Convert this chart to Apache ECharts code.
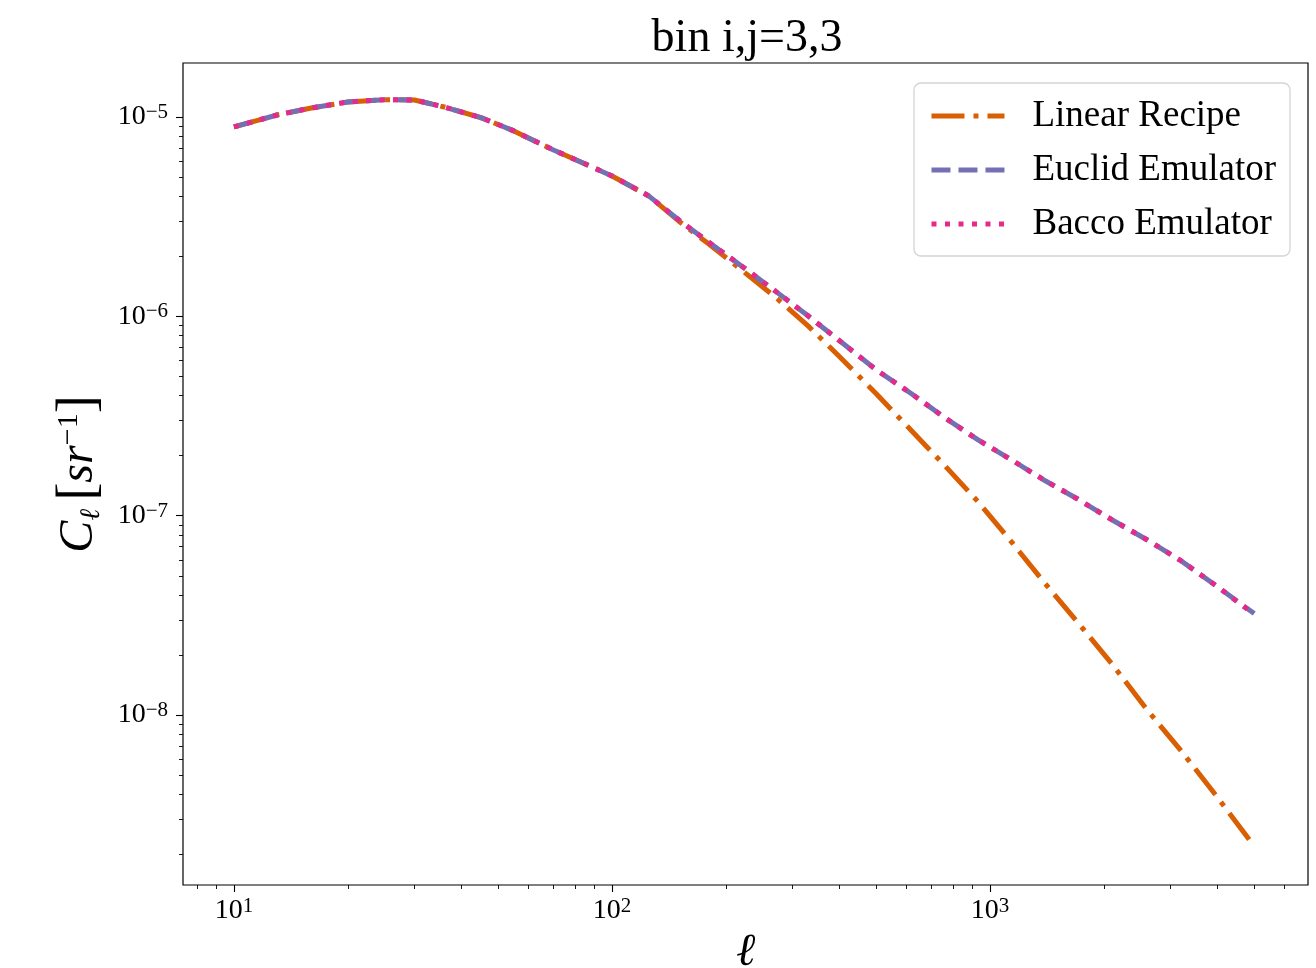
<!DOCTYPE html>
<html><head><meta charset="utf-8">
<script src="https://cdn.jsdelivr.net/npm/echarts@6/dist/echarts.min.js"></script>
<style>html,body{margin:0;padding:0;background:#fff}#chart{width:1316px;height:968px}</style>
</head><body><div id="chart"></div>
<script>
// multipole values
const ell = [10, 13, 16, 20, 25, 30, 36, 45, 55, 70, 85, 100, 125, 150, 180, 220, 270, 330, 400, 500, 620, 760, 930, 1150, 1400, 1700, 2100, 2600, 3200, 4000, 5000];
// C_ell values [sr^-1]
const linearRecipe = [8.91e-6, 1.023e-5, 1.109e-5, 1.189e-5, 1.22e-5, 1.217e-5, 1.122e-5, 9.93e-6, 8.51e-6, 6.83e-6, 5.81e-6, 5.06e-6, 4.02e-6, 3.01e-6, 2.31e-6, 1.71e-6, 1.252e-6, 8.96e-7, 6.27e-7, 4.09e-7, 2.67e-7, 1.78e-7, 1.175e-7, 7.24e-8, 4.56e-8, 2.94e-8, 1.81e-8, 1.066e-8, 6.64e-9, 3.86e-9, 2.2e-9];
const euclidEmulator = [8.91e-6, 1.023e-5, 1.109e-5, 1.189e-5, 1.22e-5, 1.217e-5, 1.122e-5, 9.93e-6, 8.51e-6, 6.83e-6, 5.81e-6, 5.06e-6, 4.02e-6, 3.05e-6, 2.36e-6, 1.79e-6, 1.342e-6, 1.006e-6, 7.54e-7, 5.39e-7, 4.09e-7, 3.10e-7, 2.40e-7, 1.887e-7, 1.497e-7, 1.217e-7, 9.55e-8, 7.58e-8, 5.95e-8, 4.40e-8, 3.23e-8];
const baccoEmulator = [8.91e-6, 1.023e-5, 1.109e-5, 1.189e-5, 1.22e-5, 1.217e-5, 1.122e-5, 9.93e-6, 8.51e-6, 6.83e-6, 5.81e-6, 5.06e-6, 4.02e-6, 3.05e-6, 2.36e-6, 1.79e-6, 1.342e-6, 1.006e-6, 7.54e-7, 5.39e-7, 4.09e-7, 3.10e-7, 2.40e-7, 1.887e-7, 1.497e-7, 1.217e-7, 9.55e-8, 7.58e-8, 5.95e-8, 4.40e-8, 3.20e-8];
const seriesNames = ['Linear Recipe', 'Euclid Emulator', 'Bacco Emulator'];
// axis ticks and limits
const xMajorTicks = [10, 100, 1000];
const yMajorTicks = [1e-8, 1e-7, 1e-6, 1e-5];
const xLimits = [7.33, 6937];
const yLimits = [1.406e-9, 1.865e-5];

const L = Math.log10;
function minorTicks(lim) {
  const out = [];
  const lo = Math.floor(L(lim[0])), hi = Math.ceil(L(lim[1]));
  for (let n = lo; n <= hi; n++) for (let k = 2; k <= 9; k++) {
    const v = k * Math.pow(10, n);
    if (v >= lim[0] && v <= lim[1]) out.push(L(v));
  }
  return out;
}
const serif = "'Liberation Serif', 'DejaVu Serif', serif";
const tickRich = {
  b: {fontFamily: serif, fontSize: 28, color: '#000', lineHeight: 30},
  s: {fontFamily: serif, fontSize: 21, color: '#000', verticalAlign: 'top', lineHeight: 20}
};
function expLabel(v) {
  const e = Math.round(v);
  return '{b|10}{s|' + (e < 0 ? '\u2212' + (-e) : e) + '}';
}
const toPts = arr => ell.map((l, i) => [L(l), L(arr[i])]);

const colors = ['#d95f02', '#7570b3', '#e7298a'];
const dashes = [[33, 9, 5, 9], [19, 8], [5, 8.5]];

const chart = echarts.init(document.getElementById('chart'), null, {renderer: 'canvas'});
const lineBase = {type: 'line', symbol: 'none', showSymbol: false, smooth: false, animation: false, xAxisIndex: 0, yAxisIndex: 0};
chart.setOption({
  animation: false,
  backgroundColor: '#fff',
  title: {
    text: 'bin i,j=3,3', left: 742, top: 11, textAlign: 'center',
    textStyle: {fontFamily: serif, fontSize: 46, fontWeight: 'normal', color: '#000'}
  },
  grid: {left: 183, right: 8, top: 63, bottom: 83, show: true, borderColor: '#000', borderWidth: 1.2,
         backgroundColor: 'transparent', containLabel: false, outerBoundsMode: 'none'},
  legend: {
    orient: 'vertical', right: 26, top: 83,
    itemWidth: 73, itemHeight: 14, itemGap: 14,
    padding: [13, 14, 12, 15],
    backgroundColor: '#fff', borderColor: '#d4d4d4', borderWidth: 1.3, borderRadius: 7,
    textStyle: {fontFamily: serif, fontSize: 37, color: '#000', lineHeight: 40, padding: [0, 0, 0, 23]},
    data: seriesNames.map((n, i) => ({
      name: n,
      itemStyle: {opacity: 0, color: 'transparent', borderWidth: 0},
      lineStyle: {color: colors[i], width: 5, type: dashes[i], cap: 'butt'}
    }))
  },
  xAxis: [
    {
      type: 'value', min: L(xLimits[0]), max: L(xLimits[1]), position: 'bottom',
      axisLine: {show: false}, splitLine: {show: false},
      axisTick: {show: true, customValues: xMajorTicks.map(L), length: 7, lineStyle: {color: '#000', width: 1.1}},
      axisLabel: {customValues: xMajorTicks.map(L), formatter: expLabel, rich: tickRich, margin: 11},
      name: '\u2113', nameLocation: 'middle', nameGap: 40,
      nameTextStyle: {fontFamily: serif, fontStyle: 'italic', fontSize: 46, color: '#000'}
    },
    {
      type: 'value', min: L(xLimits[0]), max: L(xLimits[1]), position: 'bottom',
      axisLine: {show: false}, splitLine: {show: false}, axisLabel: {show: false},
      axisTick: {show: true, customValues: minorTicks(xLimits), length: 4, lineStyle: {color: '#000', width: 0.9}}
    }
  ],
  yAxis: [
    {
      type: 'value', min: L(yLimits[0]), max: L(yLimits[1]), position: 'left',
      axisLine: {show: false}, splitLine: {show: false},
      axisTick: {show: true, customValues: yMajorTicks.map(L), length: 7, lineStyle: {color: '#000', width: 1.1}},
      axisLabel: {customValues: yMajorTicks.map(L), formatter: expLabel, rich: tickRich, margin: 15},
      name: '{c|C}{l|\u2113}{sp| }{br|[}{c|sr}{sup|\u22121}{br|]}', nameLocation: 'middle', nameRotate: 90, nameGap: 74,
      nameTextStyle: {
        rich: {
          c: {fontFamily: serif, fontStyle: 'italic', fontSize: 48, color: '#000', lineHeight: 52},
          l: {fontFamily: serif, fontStyle: 'italic', fontSize: 28, color: '#000', verticalAlign: 'bottom', lineHeight: 30},
          sp: {fontSize: 30, lineHeight: 30},
          br: {fontFamily: serif, fontSize: 54, color: '#000', lineHeight: 52},
          sup: {fontFamily: serif, fontSize: 30, color: '#000', verticalAlign: 'top', lineHeight: 30}
        }
      }
    },
    {
      type: 'value', min: L(yLimits[0]), max: L(yLimits[1]), position: 'left',
      axisLine: {show: false}, splitLine: {show: false}, axisLabel: {show: false},
      axisTick: {show: true, customValues: minorTicks(yLimits), length: 4, lineStyle: {color: '#000', width: 0.9}}
    }
  ],
  series: [
    Object.assign({}, lineBase, {name: seriesNames[0], data: toPts(linearRecipe), z: 2,
      itemStyle: {color: colors[0]},
      lineStyle: {color: colors[0], width: 5, type: dashes[0], cap: 'butt'}}),
    Object.assign({}, lineBase, {name: seriesNames[1], data: toPts(euclidEmulator), z: 3,
      itemStyle: {color: colors[1]},
      lineStyle: {color: colors[1], width: 5, type: dashes[1], cap: 'butt'}}),
    Object.assign({}, lineBase, {name: seriesNames[2], data: toPts(baccoEmulator), z: 4,
      itemStyle: {color: colors[2]},
      lineStyle: {color: colors[2], width: 5, type: dashes[2], cap: 'butt'}})
  ]
});
</script></body></html>
